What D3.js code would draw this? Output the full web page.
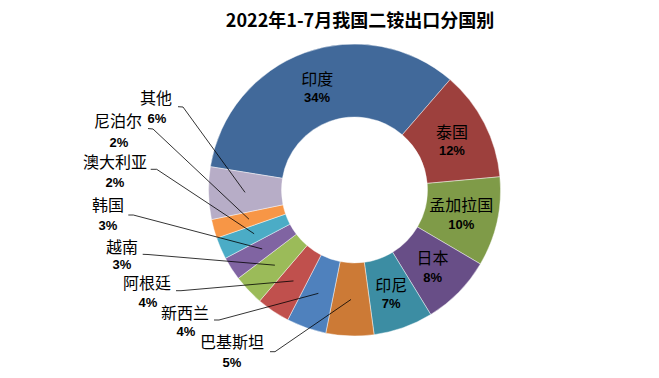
<!DOCTYPE html>
<html>
<head>
<meta charset="utf-8">
<script src="https://cdn.jsdelivr.net/npm/d3@7/dist/d3.min.js"></script>
<style>
  html, body { margin: 0; padding: 0; background: #fff; }
  svg { display: block; }
</style>
</head>
<body>
<svg id="chart" width="659" height="378"></svg>
<script>
// ---- data ----
const title = "2022年1-7月我国二铵出口分国别";
const countries = ["印度", "泰国", "孟加拉国", "日本", "印尼", "巴基斯坦", "新西兰", "阿根廷", "越南", "韩国", "澳大利亚", "尼泊尔", "其他"];
const shares = [33.8, 12.2, 9.9, 7.8, 6.6, 5.3, 4.4, 3.7, 3.4, 2.6, 2.4, 2.1, 5.8];
const colors = ["#41699a", "#9d403d", "#7f9b48", "#684e87", "#3c8da3", "#cc7a36", "#4f81bd", "#c0504d", "#9bbb59", "#8064a2", "#4bacc6", "#f79646", "#b7adc7"];

// ---- layout (not data) ----
const W = 659, H = 378;
const cx = 354.5, cy = 190;
const outerR = 146, innerR = 73;
const startDeg = -80.8;
// outside label placement: name centre, percent centre, leader start & elbow
const outside = {
  "其他":   { name: [156, 97],  pct: [157, 118], line: [[178, 106.7], [183, 107]] },
  "尼泊尔": { name: [118, 120], pct: [119, 142], line: [[148, 128.5], [153, 129]] },
  "澳大利亚": { name: [115, 161], pct: [115, 182], line: [[150.7, 169.3], [156.7, 169.3]] },
  "韩国":   { name: [108, 204], pct: [108, 225], line: [[128.3, 215], [133.3, 215]] },
  "越南":   { name: [122, 245.5], pct: [122, 264.5], line: [[142.7, 254.3], [148, 254.5]] },
  "阿根廷": { name: [147, 281.5], pct: [148, 302], line: [[176, 290.7], [181, 290.7]] },
  "新西兰": { name: [185, 312], pct: [186, 331], line: [[214, 320], [219, 320]] },
  "巴基斯坦": { name: [232, 341], pct: [232, 362], line: [[270, 351.7], [275, 351.7]] }
};

const data = countries.map((c, i) => ({ name: c, value: shares[i], color: colors[i] }));
const total = d3.sum(shares);
const fmtPct = v => d3.format(".0%")(v / total);

const svg = d3.select("#chart");
svg.append("rect").attr("width", W).attr("height", H).attr("fill", "#fff");

svg.append("text")
  .attr("x", 360).attr("y", 27)
  .attr("text-anchor", "middle")
  .attr("font-family", "'Noto Sans CJK SC', 'Noto Sans', sans-serif")
  .attr("font-weight", 700)
  .attr("font-size", 18)
  .attr("fill", "#000")
  .text(title);

const a0 = startDeg * Math.PI / 180;
const pie = d3.pie().sort(null).value(d => d.value).startAngle(a0).endAngle(a0 + 2 * Math.PI);
const arc = d3.arc().innerRadius(innerR).outerRadius(outerR);
const arcs = pie(data);

const g = svg.append("g").attr("transform", `translate(${cx},${cy})`);
g.selectAll("path.slice").data(arcs).join("path")
  .attr("class", "slice")
  .attr("d", arc)
  .attr("fill", d => d.data.color)
  .attr("stroke", "#ffffff")
  .attr("stroke-opacity", 0.55)
  .attr("stroke-width", 0.8);

const nameFont = "'Noto Sans CJK SC', 'Noto Sans', sans-serif";
const pctFont = "'Liberation Sans', Arial, sans-serif";

// inside labels
arcs.filter(d => !outside[d.data.name]).forEach(d => {
  const [x, y] = arc.centroid(d);
  g.append("text")
    .attr("x", x).attr("y", y - 9.5)
    .attr("text-anchor", "middle").attr("dominant-baseline", "central")
    .attr("font-family", nameFont).attr("font-size", 16).attr("fill", "#000")
    .text(d.data.name);
  g.append("text")
    .attr("x", x).attr("y", y + 10.5)
    .attr("text-anchor", "middle").attr("dominant-baseline", "central")
    .attr("font-family", pctFont).attr("font-weight", 700).attr("font-size", 13).attr("fill", "#000")
    .text(fmtPct(d.data.value));
});

// outside labels with leader lines
const line = d3.line();
arcs.filter(d => outside[d.data.name]).forEach(d => {
  const L = outside[d.data.name];
  const [x, y] = arc.centroid(d);
  const pts = [L.line[0], L.line[1], [x + cx, y + cy]];
  svg.append("path")
    .attr("d", line(pts))
    .attr("fill", "none")
    .attr("stroke", "#000")
    .attr("stroke-width", 0.8);
  svg.append("text")
    .attr("x", L.name[0]).attr("y", L.name[1])
    .attr("text-anchor", "middle").attr("dominant-baseline", "central")
    .attr("font-family", nameFont).attr("font-size", 16).attr("fill", "#000")
    .text(d.data.name);
  svg.append("text")
    .attr("x", L.pct[0]).attr("y", L.pct[1])
    .attr("text-anchor", "middle").attr("dominant-baseline", "central")
    .attr("font-family", pctFont).attr("font-weight", 700).attr("font-size", 13).attr("fill", "#000")
    .text(fmtPct(d.data.value));
});
</script>
</body>
</html>
